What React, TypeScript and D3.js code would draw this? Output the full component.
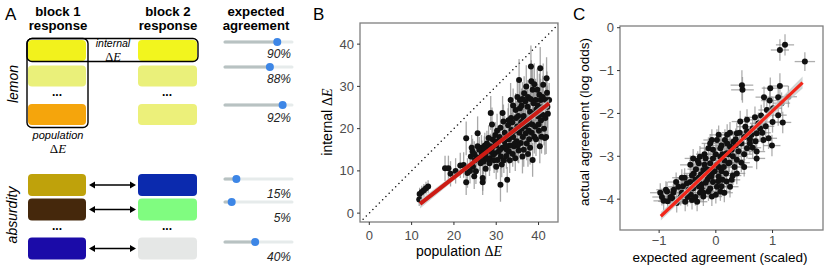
import * as d3 from 'd3';

// ---------- panel A data ----------
const lemonBlock1 = ['#F2F21C', '#EAF07A', '#F5A50C'];
const lemonBlock2 = ['#F2F51E', '#EAF07A', '#ECF07A'];
const absurdBlock1 = ['#BFA20B', '#45280C', '#1B0BA8'];
const absurdBlock2 = ['#0B2AAE', '#80FC80', '#E5E7E6'];
const lemonLabels = ['90%', '88%', '92%'];
const lemonKnobs = [0.78, 0.67, 0.86];
const absurdLabels = ['15%', '5%', '40%'];
const absurdKnobs = [0.17, 0.1, 0.45];

// ---------- panel B data (population dE, internal dE, error) ----------
const bPop = [11.8, 11.9, 12.4, 12.9, 13.4, 13.9, 17.9, 18.7, 19.2, 20.4, 21.5, 22.3, 22.9, 23.2, 22.9, 24.0, 24.4, 24.8, 25.2, 25.6,
  25.6, 26.3, 26.8, 26.8, 27.2, 28.0, 28.4, 28.7, 29.0, 29.2, 29.6, 30.0, 30.3, 31.0, 31.1, 31.5, 31.7, 32.3, 32.6, 33.0,
  33.4, 33.6, 34.2, 34.6, 35.0, 35.4, 35.6, 35.8, 36.2, 36.5, 36.6, 37.0, 37.4, 37.8, 38.2, 38.3, 38.6, 38.6, 39.0, 39.3,
  39.7, 39.9, 40.4, 40.5, 40.7, 40.9, 41.1, 41.7, 41.9, 42.1, 42.5, 26.0, 26.5, 27.0, 27.5, 27.8, 28.5, 29.0, 29.5, 30.0,
  30.5, 30.8, 31.5, 31.8, 32.0, 32.5, 33.0, 33.2, 33.8, 34.0, 34.5, 34.8, 35.2, 35.5, 35.9, 36.0, 36.3, 36.8, 37.2, 37.5,
  37.7, 38.0, 38.5, 38.8, 39.2, 39.5, 40.0, 40.2, 40.8, 41.3, 41.5, 42.0, 34.0, 33.5, 32.8, 36.5, 37.5, 35.3, 30.2, 28.2,
  27.5, 25.0, 24.5, 23.8, 24.2, 24.8, 25.4, 26.0, 26.6, 27.3, 27.9, 28.6, 29.3, 29.8, 30.4, 30.9, 31.3, 31.9, 32.4, 32.9,
  33.3, 33.9, 34.3, 34.7, 35.1, 35.6, 36.0, 36.4, 36.9, 37.3, 37.8, 38.1, 38.4, 38.9, 39.4, 39.8, 40.1, 40.6, 41.0, 41.6,
  42.2, 39.0, 37.1, 36.2, 35.0, 34.4, 33.6, 32.2, 31.0, 29.8, 28.8, 27.2, 38.0, 40.3, 41.8];
const bInt = [3.2, 4.5, 5.0, 5.4, 5.9, 6.3, 10.6, 10.6, 9.3, 10.0, 11.3, 11.4, 17.7, 9.5, 7.3, 13.4, 14.6, 8.7, 9.9, 15.8,
  18.9, 11.8, 8.3, 7.3, 13.4, 15.0, 11.8, 23.7, 21.0, 17.4, 14.2, 11.0, 12.6, 6.7, 13.4, 23.7, 21.7, 17.4, 7.9, 14.6,
  26.8, 19.7, 15.8, 24.4, 20.5, 31.5, 26.8, 16.6, 13.4, 23.0, 28.4, 18.9, 25.2, 22.1, 34.7, 31.2, 29.2, 12.6, 18.1, 26.8,
  29.2, 22.9, 34.3, 26.8, 18.1, 23.3, 30.4, 26.8, 31.9, 25.2, 26.8, 13.0, 15.5, 12.2, 14.0, 16.5, 13.0, 15.5, 12.5, 16.0,
  14.5, 18.0, 15.5, 12.5, 19.0, 15.0, 17.5, 12.5, 21.5, 18.0, 13.0, 17.0, 23.0, 19.0, 21.5, 25.5, 18.0, 20.5, 16.5, 27.5,
  19.5, 24.0, 21.0, 26.0, 20.5, 24.5, 21.0, 28.0, 25.0, 20.0, 17.8, 28.5, 25.5, 22.5, 20.8, 15.0, 14.0, 14.8, 19.5, 17.8,
  10.5, 12.5, 11.0, 10.0, 15.5, 14.0, 13.2, 15.0, 14.2, 16.0, 12.8, 15.8, 13.8, 18.5, 17.0, 15.0, 11.5, 17.0, 13.5, 22.0,
  16.0, 14.0, 19.5, 22.5, 16.0, 24.8, 20.0, 22.0, 26.5, 21.0, 17.5, 27.0, 19.0, 23.5, 17.5, 25.5, 19.5, 22.0, 27.5, 22.5,
  23.5, 30.5, 30.0, 27.0, 27.5, 16.5, 18.8, 16.0, 20.2, 16.8, 14.5, 15.2, 15.5, 15.8, 18.0];
const bErr = [1.5, 1.5, 1.5, 1.5, 1.5, 1.5, 3, 3, 3, 3, 3, 3, 4, 3.5, 3, 3, 3, 3, 3, 3,
  4, 3, 3, 3, 3, 3, 3, 4, 4, 3, 3, 3, 3, 4, 3, 4, 4, 3, 3, 3,
  4, 4, 3, 4, 4, 5, 4, 4, 4, 4, 4, 4, 4, 4, 5, 5, 5, 4, 4, 5,
  5, 5, 5, 5, 4, 5, 5, 5, 5, 5, 4, 3, 3, 3, 3, 3, 3, 3, 3, 3,
  3, 3, 3, 3, 4, 3, 4, 3, 4, 4, 3, 4, 4, 4, 4, 4, 4, 4, 4, 4,
  4, 5, 4, 5, 4, 5, 4, 5, 5, 4, 4, 5, 4, 4, 4, 4, 3, 3, 4, 3,
  3, 3, 3, 3, 3, 3, 3, 3, 3, 3, 3, 3, 3, 3, 3, 3, 3, 3, 3, 4,
  3, 3, 4, 4, 4, 4, 4, 4, 4, 4, 4, 5, 4, 5, 4, 5, 4, 5, 5, 5,
  5, 5, 5, 4, 4, 3, 4, 3, 4, 3, 3, 3, 4, 4, 4];
const bFitX = [12, 27, 42.5];
const bFitY = [2.2, 13.9, 26.0];
const bFitLo = [1.1, 13.5, 25.0];
const bFitHi = [3.2, 14.3, 27.0];
const bTicks = [0, 10, 20, 30, 40];

// ---------- panel C data (expected scaled, actual log odds, x err, y err) ----------
const cExp = [1.13, 1.22, 1.57, 0.46, 0.47, 1.13, 0.96, 0.85, 1.10, 1.28, 1.16, 1.01, 0.90, 1.10, 1.18, 0.69, 0.75, 0.52, 0.37, 0.43,
  0.25, 0.16, 0.02, -0.07, 0.31, 0.63, 0.72, 0.93, 0.99, 0.78, 0.84, 0.55, 0.72, 0.72, 0.37, 0.37, 0.22, 0.08, -0.13, -0.28,
  -0.30, -0.45, -0.39, -0.36, -0.51, -0.66, -0.74, -0.86, -0.98, -0.92, -0.77, -0.69, -0.54, -0.42, -0.33, -0.22, -0.13, -0.07, 0.02, 0.08,
  0.19, 0.25, 0.05, -0.07, -0.22, -0.10, 0.02, 0.08, 0.19, 0.25, -0.30, -0.25, -0.15, -0.05, 0.10, 0.15, -0.20, -0.35, -0.40, -0.60,
  -0.50, -0.28, -0.10, 0.12, 0.30, 0.28, 0.45, 0.50, 0.40, 0.20, 0.60, 0.65, 0.55, 0.80, 0.88, 0.50, 0.35, 0.00, -0.05, -0.20,
  -0.40, -0.15, 0.05, -0.55, -0.70, -0.80, -0.45, 0.15, 0.30, -0.25, 0.20, 0.65, 1.00, 0.95, 0.12, -0.08, -0.95, -0.85, -0.75, -0.62,
  -0.58, -0.48, -0.44, -0.36, -0.30, -0.26, -0.18, -0.12, -0.02, 0.04, 0.10, 0.14, 0.18, 0.24, 0.33, -0.32, -0.18, -0.05, 0.10, 0.22,
  0.35, 0.42, 0.55, 0.60, 0.70, 0.82, 0.45, -0.60, -0.42, -0.22, 0.00, -0.88, 0.28, 0.50, -0.10, 0.05];
const cAct = [-0.52, -0.40, -0.79, -1.34, -1.45, -1.36, -1.41, -1.62, -1.62, -1.61, -1.76, -1.88, -1.92, -2.04, -2.21, -2.09, -2.23, -2.31, -2.46, -2.19,
  -2.45, -2.62, -2.62, -2.62, -2.66, -2.50, -2.46, -2.58, -2.75, -2.35, -2.62, -2.81, -2.89, -3.05, -3.08, -3.40, -3.16, -3.01, -2.81, -3.01,
  -3.16, -3.20, -3.40, -3.55, -3.63, -3.71, -3.78, -3.82, -3.85, -4.04, -3.98, -4.09, -4.06, -4.02, -4.06, -3.94, -3.82, -3.94, -3.71, -3.82,
  -3.59, -3.71, -3.47, -3.40, -3.32, -3.16, -3.20, -2.81, -2.93, -2.77, -3.50, -3.65, -3.55, -3.60, -3.35, -3.10, -3.20, -3.30, -3.75, -3.85,
  -3.95, -3.85, -3.75, -3.55, -3.00, -2.85, -2.70, -2.95, -2.88, -2.70, -2.60, -2.35, -2.15, -2.05, -2.30, -2.55, -2.75, -2.95, -3.05, -2.95,
  -3.05, -3.30, -3.25, -3.50, -3.60, -3.95, -3.60, -3.85, -3.45, -3.75, -2.50, -2.80, -2.20, -1.70, -2.95, -3.48, -3.95, -4.05, -3.85, -3.95,
  -3.70, -3.78, -3.90, -3.95, -3.70, -3.42, -3.62, -3.45, -3.35, -3.58, -3.70, -3.25, -3.40, -3.15, -3.25, -3.10, -3.05, -2.85, -2.75, -2.95,
  -2.60, -2.45, -2.42, -2.70, -2.65, -2.45, -3.15, -3.50, -3.45, -3.85, -3.90, -3.78, -3.55, -3.25, -2.70, -2.50];
const cXErr = [0.16, 0.16, 0.18, 0.2, 0.2, 0.15, 0.15, 0.15, 0.15, 0.15, 0.15, 0.15, 0.15, 0.15, 0.15, 0.15, 0.15, 0.15, 0.15, 0.15,
  0.15, 0.15, 0.15, 0.15, 0.15, 0.15, 0.15, 0.15, 0.15, 0.15, 0.15, 0.15, 0.15, 0.15, 0.15, 0.15, 0.15, 0.15, 0.15, 0.15,
  0.18, 0.18, 0.18, 0.18, 0.18, 0.18, 0.18, 0.18, 0.18, 0.18, 0.18, 0.18, 0.18, 0.18, 0.18, 0.18, 0.18, 0.18, 0.18, 0.18,
  0.15, 0.15, 0.15, 0.15, 0.15, 0.15, 0.15, 0.15, 0.15, 0.15, 0.15, 0.15, 0.15, 0.15, 0.15, 0.15, 0.15, 0.15, 0.15, 0.15,
  0.15, 0.15, 0.15, 0.15, 0.15, 0.15, 0.15, 0.15, 0.15, 0.15, 0.15, 0.15, 0.15, 0.15, 0.15, 0.15, 0.15, 0.15, 0.15, 0.15,
  0.15, 0.15, 0.15, 0.15, 0.15, 0.15, 0.15, 0.15, 0.15, 0.15, 0.15, 0.15, 0.15, 0.15, 0.15, 0.15, 0.17, 0.17, 0.17, 0.17,
  0.17, 0.17, 0.17, 0.17, 0.17, 0.17, 0.17, 0.17, 0.17, 0.17, 0.17, 0.17, 0.17, 0.17, 0.17, 0.15, 0.15, 0.15, 0.15, 0.15,
  0.15, 0.15, 0.15, 0.15, 0.15, 0.15, 0.15, 0.17, 0.17, 0.17, 0.17, 0.17, 0.15, 0.15, 0.15, 0.15];
const cYErr = [0.25, 0.25, 0.22, 0.35, 0.3, 0.3, 0.25, 0.25, 0.25, 0.25, 0.25, 0.25, 0.25, 0.25, 0.25, 0.25, 0.25, 0.25, 0.25, 0.25,
  0.25, 0.25, 0.25, 0.25, 0.25, 0.25, 0.25, 0.25, 0.25, 0.25, 0.25, 0.25, 0.25, 0.25, 0.25, 0.25, 0.25, 0.25, 0.25, 0.25,
  0.22, 0.22, 0.22, 0.22, 0.22, 0.22, 0.22, 0.22, 0.22, 0.22, 0.22, 0.22, 0.22, 0.22, 0.22, 0.22, 0.22, 0.22, 0.22, 0.22,
  0.25, 0.25, 0.25, 0.25, 0.25, 0.25, 0.25, 0.25, 0.25, 0.25, 0.22, 0.22, 0.22, 0.22, 0.22, 0.22, 0.22, 0.22, 0.22, 0.22,
  0.22, 0.22, 0.22, 0.22, 0.25, 0.25, 0.25, 0.25, 0.25, 0.25, 0.25, 0.25, 0.25, 0.25, 0.25, 0.25, 0.25, 0.25, 0.25, 0.25,
  0.22, 0.22, 0.22, 0.22, 0.22, 0.22, 0.22, 0.22, 0.22, 0.22, 0.25, 0.25, 0.25, 0.25, 0.25, 0.22, 0.2, 0.2, 0.2, 0.2,
  0.2, 0.2, 0.2, 0.2, 0.2, 0.2, 0.2, 0.2, 0.2, 0.2, 0.2, 0.2, 0.2, 0.2, 0.2, 0.22, 0.22, 0.22, 0.22, 0.22,
  0.25, 0.25, 0.25, 0.25, 0.25, 0.25, 0.22, 0.2, 0.2, 0.2, 0.2, 0.2, 0.22, 0.22, 0.22, 0.22];
const cFitX = [-0.97, 0.28, 1.53];
const cFitY = [-4.40, -2.84, -1.28];
const cFitLo = [-4.5, -2.88, -1.42];
const cFitHi = [-4.3, -2.80, -1.14];
const cXTicks = [-1, 0, 1];
const cYTicks = [0, -1, -2, -3, -4];

const SANS = '"Liberation Sans", Arial, sans-serif';
const SERIF = '"Liberation Serif", "DejaVu Serif", serif';
const TICK_COL = '#4D4D4D';
const BORDER = '#7F7F7F';

const fmt = (v: number) => (v < 0 ? '\u2212' + Math.abs(v) : String(v));

const DeltaE = () => (
  <tspan fontFamily={SERIF}>Δ<tspan fontStyle="italic">E</tspan></tspan>
);

const Slider = ({ y, knob, label, labelY }: { y: number; knob: number; label: string; labelY: number }) => {
  const sx = d3.scaleLinear().domain([0, 1]).range([225, 292]);
  return (
    <g>
      <line x1={sx(0)} x2={sx(1)} y1={y} y2={y} stroke="#E6EBEB" strokeWidth={3} strokeLinecap="round" />
      <line x1={sx(0)} x2={sx(knob)} y1={y} y2={y} stroke="#B8C2C2" strokeWidth={3} strokeLinecap="round" />
      <circle cx={sx(knob)} cy={y} r={4} fill="#3D86E6" />
      <text x={291} y={labelY} textAnchor="end" fontStyle="italic" fontSize={12} fill="#222">{label}</text>
    </g>
  );
};

const Arrow = ({ y }: { y: number }) => (
  <g>
    <line x1={93} x2={132} y1={y} y2={y} stroke="#000" strokeWidth={1.4} />
    <path d={`M89,${y} L95,${y - 3.5} L95,${y + 3.5} Z`} fill="#000" />
    <path d={`M136,${y} L130,${y - 3.5} L130,${y + 3.5} Z`} fill="#000" />
  </g>
);

const PanelA = () => {
  const lemonY = [40, 65.5, 104];
  const absurdY = [174, 198.5, 237.5];
  const lemonSlider = [42, 67, 105];
  const lemonLabelY = [58, 83, 122];
  const absurdSlider = [179, 202, 242];
  const absurdLabelY = [198, 222, 261];
  return (
    <g fontFamily={SANS}>
      <text x={5} y={20} fontSize={17}>A</text>
      <g fontWeight="bold" fontSize={13.2} textAnchor="middle">
        <text x={58} y={15.5}>block 1</text>
        <text x={58} y={30}>response</text>
        <text x={168} y={15.5}>block 2</text>
        <text x={168} y={30}>response</text>
        <text x={256} y={15.5}>expected</text>
        <text x={256} y={30}>agreement</text>
      </g>
      {lemonBlock1.map((c, i) => (
        <rect key={'l1' + i} x={28} y={lemonY[i]} width={58} height={21} rx={4} fill={c} />
      ))}
      {lemonBlock2.map((c, i) => (
        <rect key={'l2' + i} x={138} y={lemonY[i]} width={59} height={21} rx={4} fill={c} />
      ))}
      <rect x={27} y={38.5} width={171} height={23} rx={5} fill="none" stroke="#000" strokeWidth={1.4} />
      <rect x={27} y={38.5} width={61} height={89} rx={5} fill="none" stroke="#000" strokeWidth={1.4} />
      <text x={113} y={47} textAnchor="middle" fontStyle="italic" fontSize={10.5}>internal</text>
      <text x={113} y={60.5} textAnchor="middle" fontSize={12.5}><DeltaE /></text>
      <text x={57} y={96} textAnchor="middle" fontSize={12} fontWeight="bold">...</text>
      <text x={167} y={96} textAnchor="middle" fontSize={12} fontWeight="bold">...</text>
      <text transform="translate(18,84) rotate(-90)" textAnchor="middle" fontStyle="italic" fontSize={14}>lemon</text>
      <text x={58} y={139} textAnchor="middle" fontStyle="italic" fontSize={11}>population</text>
      <text x={58} y={153} textAnchor="middle" fontSize={13}><DeltaE /></text>
      {lemonLabels.map((l, i) => (
        <Slider key={'ls' + i} y={lemonSlider[i]} knob={lemonKnobs[i]} label={l} labelY={lemonLabelY[i]} />
      ))}

      {absurdBlock1.map((c, i) => (
        <rect key={'a1' + i} x={28} y={absurdY[i]} width={58} height={22} rx={4} fill={c} />
      ))}
      {absurdBlock2.map((c, i) => (
        <rect key={'a2' + i} x={138} y={absurdY[i]} width={59} height={22} rx={4} fill={c} />
      ))}
      {absurdY.map((y, i) => <Arrow key={'ar' + i} y={y + 11} />)}
      <text x={57} y={230} textAnchor="middle" fontSize={12} fontWeight="bold">...</text>
      <text x={167} y={230} textAnchor="middle" fontSize={12} fontWeight="bold">...</text>
      <text transform="translate(17,215) rotate(-90)" textAnchor="middle" fontStyle="italic" fontSize={14}>absurdity</text>
      {absurdLabels.map((l, i) => (
        <Slider key={'as' + i} y={absurdSlider[i]} knob={absurdKnobs[i]} label={l} labelY={absurdLabelY[i]} />
      ))}
    </g>
  );
};

const PanelB = () => {
  const left = 360, right = 558, top = 23, bottom = 222;
  const x = d3.scaleLinear().domain([-2.2, 44.6]).range([left, right]);
  const y = d3.scaleLinear().domain([-2.1, 45]).range([bottom, top]);
  const line = d3.line<number>().x((d) => x(d)).y((_, i) => y(bFitY[i]));
  const area = d3.area<number>().x((d) => x(d)).y0((_, i) => y(bFitLo[i])).y1((_, i) => y(bFitHi[i]));
  return (
    <g fontFamily={SANS}>
      <text x={313} y={20} fontSize={17}>B</text>
      <defs>
        <clipPath id="clipB"><rect x={left} y={top} width={right - left} height={bottom - top} /></clipPath>
      </defs>
      <g clipPath="url(#clipB)">
        <line x1={x(-3)} y1={y(-3)} x2={x(46)} y2={y(46)} stroke="#111" strokeWidth={1.6}
          strokeDasharray="0 4.6" strokeLinecap="round" />
        {bPop.map((p, i) => (
          <line key={'be' + i} x1={x(p)} x2={x(p)} y1={y(bInt[i] - bErr[i])} y2={y(bInt[i] + bErr[i])}
            stroke="#8C8C8C" strokeOpacity={0.75} strokeWidth={1.3} />
        ))}
        {bPop.map((p, i) => (
          <circle key={'bp' + i} cx={x(p)} cy={y(bInt[i])} r={3} fill="#111" />
        ))}
        <path d={area(bFitX) || ''} fill="#C5CCCC" fillOpacity={0.8} />
        <path d={line(bFitX) || ''} stroke="#CC1B14" strokeWidth={4} fill="none" />
      </g>
      <rect x={left} y={top} width={right - left} height={bottom - top} fill="none" stroke={BORDER} strokeWidth={1.3} />
      {bTicks.map((t) => (
        <g key={'bx' + t}>
          <line x1={x(t)} x2={x(t)} y1={bottom} y2={bottom + 3} stroke="#333" />
          <text x={x(t)} y={239.5} textAnchor="middle" fontSize={13} fill={TICK_COL}>{fmt(t)}</text>
          <line x1={left - 3} x2={left} y1={y(t)} y2={y(t)} stroke="#333" />
          <text x={354} y={y(t) + 4.5} textAnchor="end" fontSize={13} fill={TICK_COL}>{fmt(t)}</text>
        </g>
      ))}
      <text x={459} y={256} textAnchor="middle" fontSize={14}>population <DeltaE /></text>
      <text transform="translate(332,122) rotate(-90)" textAnchor="middle" fontSize={14}>internal <DeltaE /></text>
    </g>
  );
};

const PanelC = () => {
  const left = 620, right = 823, top = 26, bottom = 230;
  const x = d3.scaleLinear().domain([-1.69, 1.89]).range([left, right]);
  const y = d3.scaleLinear().domain([-4.72, 0.04]).range([bottom, top]);
  const line = d3.line<number>().x((d) => x(d)).y((_, i) => y(cFitY[i]));
  const area = d3.area<number>().x((d) => x(d)).y0((_, i) => y(cFitLo[i])).y1((_, i) => y(cFitHi[i]));
  return (
    <g fontFamily={SANS}>
      <text x={573} y={20} fontSize={17}>C</text>
      <defs>
        <clipPath id="clipC"><rect x={left} y={top} width={right - left} height={bottom - top} /></clipPath>
      </defs>
      <g clipPath="url(#clipC)">
        {cExp.map((p, i) => (
          <g key={'ce' + i} stroke="#8C8C8C" strokeOpacity={0.7} strokeWidth={1.3}>
            <line x1={x(p)} x2={x(p)} y1={y(cAct[i] - cYErr[i])} y2={y(cAct[i] + cYErr[i])} />
            <line x1={x(p - cXErr[i])} x2={x(p + cXErr[i])} y1={y(cAct[i])} y2={y(cAct[i])} />
          </g>
        ))}
        {cExp.map((p, i) => (
          <circle key={'cp' + i} cx={x(p)} cy={y(cAct[i])} r={3} fill="#111" />
        ))}
        <path d={area(cFitX) || ''} fill="#C5CCCC" fillOpacity={0.8} />
        <path d={line(cFitX) || ''} stroke="#F2261A" strokeWidth={3.2} fill="none" />
      </g>
      <rect x={left} y={top} width={right - left} height={bottom - top} fill="none" stroke={BORDER} strokeWidth={1.3} />
      {cXTicks.map((t) => (
        <g key={'cx' + t}>
          <line x1={x(t)} x2={x(t)} y1={bottom} y2={bottom + 3} stroke="#333" />
          <text x={x(t)} y={245} textAnchor="middle" fontSize={13} fill={TICK_COL}>{fmt(t)}</text>
        </g>
      ))}
      {cYTicks.map((t) => (
        <g key={'cy' + t}>
          <line x1={left - 3} x2={left} y1={y(t)} y2={y(t)} stroke="#333" />
          <text x={614} y={y(t) + 4.5} textAnchor="end" fontSize={13} fill={TICK_COL}>{fmt(t)}</text>
        </g>
      ))}
      <text x={720} y={262} textAnchor="middle" fontSize={13.5}>expected agreement (scaled)</text>
      <text transform="translate(589,122) rotate(-90)" textAnchor="middle" fontSize={13.5}>actual agreement (log odds)</text>
    </g>
  );
};

export default function App() {
  return (
    <svg width={830} height={270} style={{ position: 'absolute', left: 0, top: 0, background: '#fff' }}>
      <PanelA />
      <PanelB />
      <PanelC />
    </svg>
  );
}
